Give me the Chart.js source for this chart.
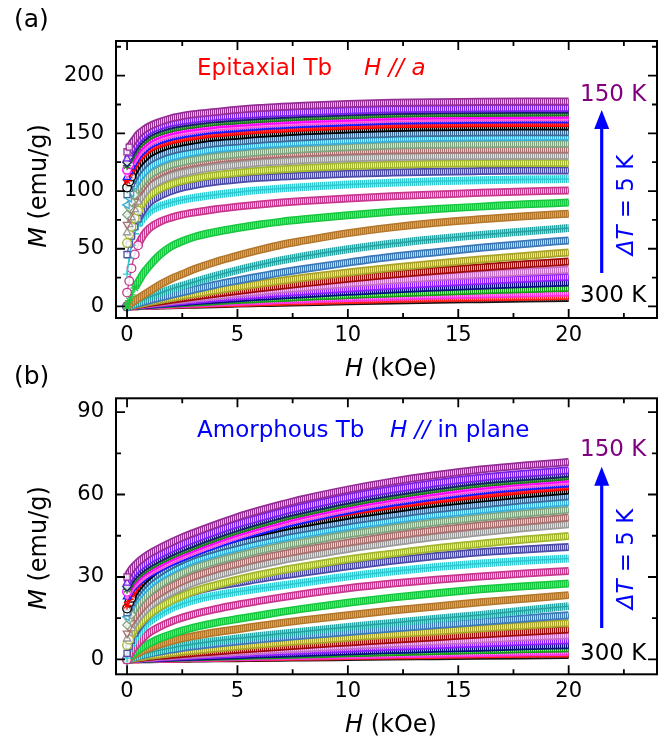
<!DOCTYPE html>
<html>
<head>
<meta charset="utf-8">
<script src="https://cdn.jsdelivr.net/npm/chart.js@4.4.1/dist/chart.umd.min.js"></script>
<style>
  html, body { margin: 0; padding: 0; background: #fff; }
  #wrap { position: relative; width: 668px; height: 750px; overflow: hidden; }
  canvas { position: absolute; left: 0; }
  #chartA { top: 0; }
  #chartB { top: 350px; }
</style>
</head>
<body>
<div id="wrap">
  <canvas id="chartA" width="668" height="390"></canvas>
  <canvas id="chartB" width="668" height="400"></canvas>
</div>
<script>
// Field values (kOe) shared by every M(H) curve
const fieldKOe = [0, 0.1, 0.2, 0.35, 0.5, 0.75, 1, 1.5, 2, 2.5, 3, 4, 5, 6, 7, 8, 10, 12, 14, 16, 18, 20];
const temperaturesK = [150, 155, 160, 165, 170, 175, 180, 185, 190, 195, 200, 205, 210, 215, 220, 225,
                       230, 235, 240, 245, 250, 255, 260, 265, 270, 275, 280, 285, 290, 295, 300];

// Tick labels
const fieldTicks = [0, 5, 10, 15, 20];
const epiTicks = [0, 50, 100, 150, 200];
const amoTicks = [0, 30, 60, 90];

// (a) epitaxial Tb, H // a : M (emu/g)
const epi150 = [134,138,141,145,149,153,156,160,163,165,166.5,168.5,170.5,172,173,174,175.5,176.5,177,177.3,177.5,177.6];
const epi155 = [128,132.4,135.9,140.3,144.3,148.7,152.2,156.2,158.8,160.6,161.9,164.1,165.4,166.7,167.6,168.5,169.8,170.9,171.4,171.7,171.9,172];
const epi160 = [125,129.6,133.2,137.7,141.8,146.4,150,154.1,156.9,158.7,160,162.3,163.7,165,166,166.9,168.2,169.4,169.9,170.2,170.4,170.5];
const epi165 = [122,126.6,130.3,134.9,139,143.6,147.3,151.4,154.2,156,157.4,159.7,161.1,162.5,163.4,164.3,165.7,166.9,167.4,167.7,167.9,168];
const epi170 = [118.5,123.3,127.1,131.8,136.1,140.8,144.6,148.9,151.8,153.7,155.1,157.5,158.9,160.3,161.3,162.2,163.6,164.8,165.4,165.7,165.9,166];
const epi175 = [115,119.9,123.8,128.7,133.1,138,142,146.4,149.3,151.3,152.7,155.2,156.7,158.1,159.1,160.1,161.6,162.8,163.4,163.7,163.9,164];
const epi180 = [112,117,121,126,130.5,135.5,139.5,144,147,149,150.5,153,154.5,156,157,158,159.5,160.8,161.4,161.7,161.9,162];
const epi185 = [109,114,118,123,127.5,132.5,136.5,141,144,146,147.5,150,151.5,153,154,155,156.5,157.8,158.4,158.7,158.9,159];
const epi190 = [103,108.3,112.5,117.8,122.6,127.9,132.2,136.9,140.1,142.2,143.8,146.5,148,149.6,150.7,151.8,153.4,154.7,155.3,155.7,155.9,156];
const epi195 = [97,102.4,106.7,112.1,117,122.4,126.7,131.6,134.8,137,138.6,141.3,142.9,144.5,145.6,146.7,148.3,149.7,150.3,150.7,150.9,151];
const epi200 = [88,93.9,98.6,104.5,109.8,115.7,120.5,125.8,129.3,131.7,133.4,136.4,138.2,139.9,141.1,142.3,144.1,145.5,146.2,146.6,146.9,147];
const epi205 = [79.5,85.7,90.6,96.7,102.3,108.4,113.3,118.9,122.6,125,126.9,129.9,131.8,133.6,134.9,136.1,137.9,139.5,140.2,140.6,140.9,141];
const epi210 = [71,78,84,91,97.5,104.5,110,115.8,119.8,122.3,124.2,127.2,129.2,130.8,132,133,134.4,135.3,135.7,135.9,136,136];
const epi215 = [64,71,77,84,90.5,97.5,103,109,113,115.6,117.6,120.7,122.7,124.5,125.7,126.8,128.4,129.5,130.1,130.4,130.5,130.6];
const epi220 = [55,62.5,69,76.5,83,90.5,96,102,106,108.8,110.8,113.8,115.8,117.5,118.8,119.9,121.6,122.8,123.6,124,124.2,124.3];
const epi225 = [45,54,61,69,76,84,90,96,100,103,105,108,110,111.5,112.5,113.5,115,116,116.8,117.3,117.7,117.9];
const epi230 = [28,42,53,63,70,77,82,87,90,92.3,94.1,96.8,99,100.8,102.3,103.6,105.6,107.2,108.4,109.3,110,110.4];
const epi235 = [12,22,33,45,53,62,67.5,73.5,77,79.5,81.3,84.2,86.5,88.4,90,91.4,93.6,95.5,97,98.5,99.6,100.5];
const epi240 = [0,5,10,16,21,29,35,45,52,56.5,60,64.5,68,71,73.5,75.5,79,82,84.5,86.5,88.5,90];
const epi245 = [0,1.5,3,5,7,10,13,19,24,28,32,38.5,44,49,53.5,57,63.5,68.5,72.5,75.5,78.2,80.3];
const epi250 = [0,0.8,1.6,2.8,4,6,8,11.5,15,18,21,26.5,31.5,36,40,43.5,49.5,54.5,58.5,62,65,67.9];
const epi255 = [0,0.5,1,1.8,2.6,3.9,5.2,7.6,10,12.3,14.5,18.8,22.5,26,29.5,32.5,38,43,47,50.8,54.2,57.2];
const epi260 = [0,0.4,0.8,1.3,1.9,2.8,3.7,5.5,7.3,9,10.6,13.8,16.8,19.6,22.3,24.9,29.5,33.6,37.2,40.6,43.8,46.8];
const epi265 = [0,0.3,0.6,1,1.5,2.2,2.9,4.3,5.7,7,8.4,11,13.4,15.7,17.9,20,24,27.6,30.9,33.8,36.5,39];
const epi270 = [0,0.25,0.5,0.85,1.2,1.8,2.4,3.5,4.6,5.7,6.8,8.9,10.9,12.8,14.6,16.3,19.6,22.6,25.2,27.6,29.8,31.8];
const epi275 = [0,0.2,0.4,0.7,1,1.5,1.9,2.8,3.7,4.6,5.4,7.1,8.7,10.2,11.6,13,15.6,18,20.2,22.1,23.9,25.5];
const epi280 = [0,0.15,0.3,0.55,0.8,1.2,1.55,2.3,3,3.7,4.4,5.8,7.1,8.3,9.5,10.6,12.7,14.7,16.4,18,19.5,20.8];
const epi285 = [0,0.12,0.24,0.42,0.6,0.9,1.2,1.8,2.3,2.9,3.4,4.5,5.5,6.4,7.3,8.2,9.8,11.3,12.6,13.8,15,16];
const epi290 = [0,0.1,0.18,0.32,0.45,0.7,0.9,1.3,1.7,2.1,2.5,3.3,4.1,4.8,5.5,6.1,7.4,8.5,9.5,10.4,11.2,12];
const epi295 = [0,0.07,0.14,0.24,0.34,0.5,0.67,1,1.3,1.6,1.9,2.5,3,3.6,4.1,4.6,5.5,6.4,7.1,7.8,8.4,9];
const epi300 = [0,0.06,0.11,0.2,0.28,0.41,0.55,0.8,1.05,1.3,1.55,2,2.5,2.9,3.3,3.7,4.5,5.2,5.8,6.3,6.8,7.3];

// (b) amorphous Tb, H // in plane : M (emu/g)
const amo150 = [30,31.5,32.8,34.2,35.4,37,38.4,40.6,42.6,44.4,46,49,51.8,54.2,56.4,58.4,61.8,64.7,67.1,69.1,70.6,71.8];
const amo155 = [27.8,29.3,30.5,31.9,33.1,34.6,36,38.2,40.1,41.9,43.5,46.5,49.2,51.5,53.7,55.6,59,61.8,64.2,66.1,67.6,68.8];
const amo160 = [26.5,28,29.3,30.6,31.8,33.4,34.7,36.9,38.9,40.6,42.2,45.2,47.9,50.3,52.5,54.4,57.8,60.6,63,65,66.4,67.6];
const amo165 = [25.5,27,28.3,29.6,30.8,32.4,33.7,35.9,37.9,39.6,41.2,44.2,46.9,49.3,51.5,53.4,56.8,59.6,62,64,65.4,66.6];
const amo170 = [24.6,26.1,27.4,28.7,29.9,31.5,32.8,35,37,38.8,40.4,43.4,46.1,48.5,50.6,52.6,56,58.8,61.1,63.1,64.6,65.8];
const amo175 = [23.5,25,26.3,27.6,28.8,30.4,31.8,34,36,37.8,39.4,42.4,45.1,47.5,49.7,51.6,55,57.9,60.2,62.2,63.7,64.9];
const amo180 = [22.8,24.3,25.6,26.9,28.1,29.7,31.1,33.3,35.3,37,38.6,41.6,44.3,46.7,48.9,50.8,54.2,57,59.3,61.3,62.8,64];
const amo185 = [19.7,21.9,23.6,25.8,27.5,29.9,31.8,34.9,37.2,39.2,40.9,43.5,45.7,47.6,49.4,50.9,53.7,56.1,58.2,60,61.6,63];
const amo190 = [18.5,20.7,22.4,24.5,26.2,28.6,30.5,33.6,35.9,37.9,39.6,42.2,44.3,46.2,48,49.5,52.3,54.6,56.8,58.5,60.1,61.5];
const amo195 = [17,19.1,20.8,22.9,24.6,27,28.9,31.8,34.2,36.1,37.8,40.3,42.4,44.3,46,47.5,50.3,52.6,54.7,56.4,58,59.4];
const amo200 = [15.5,17.6,19.3,21.4,23,25.3,27.2,30.1,32.4,34.3,36,38.5,40.6,42.5,44.1,45.6,48.3,50.6,52.7,54.4,55.9,57.3];
const amo205 = [12.5,14.6,16.3,18.4,20.1,22.4,24.3,27.2,29.5,31.4,33.1,35.6,37.7,39.6,41.3,42.7,45.5,47.8,49.9,51.6,53.1,54.5];
const amo210 = [9.5,11.6,13.3,15.4,17.1,19.4,21.3,24.2,26.5,28.4,30.1,32.7,34.8,36.7,38.3,39.8,42.5,44.9,47,48.7,50.2,51.6];
const amo215 = [7.5,9.6,11.3,13.3,15,17.3,19.2,22.1,24.4,26.3,27.9,30.4,32.5,34.4,36.1,37.5,40.2,42.5,44.6,46.3,47.8,49.2];
const amo220 = [5.2,7.2,8.8,10.8,12.3,14.5,16.3,19.1,21.3,23.1,24.7,27,29,30.8,32.4,33.8,36.4,38.5,40.5,42.1,43.6,44.9];
const amo225 = [2.2,4.9,7,9.6,11.5,14.2,16.3,19.2,21.6,23.3,24.6,26.6,27.9,29.3,30.5,31.6,33.9,35.9,37.6,39,40,40.9];
const amo230 = [0.5,3,5,7.4,9.2,11.7,13.7,16.4,18.6,20.2,21.5,23.3,24.6,25.8,26.9,28,30.2,32,33.6,34.9,35.9,36.7];
const amo235 = [0,1.5,2.8,4.6,6,8,9.7,12,13.8,15.2,16.4,18.3,19.9,21.3,22.6,23.8,25.9,27.6,29,30.2,31.3,32.2];
const amo240 = [0,0.8,1.5,2.5,3.4,4.7,5.8,7.7,9.2,10.5,11.6,13.3,14.7,16,17.3,18.5,20.6,22.5,24.1,25.5,26.6,27.6];
const amo245 = [0,0.5,1,1.7,2.3,3.3,4.1,5.5,6.7,7.7,8.5,9.9,11,12.2,13.3,14.3,16.1,17.8,19.3,20.8,22.1,23.4];
const amo250 = [0,0.3,0.6,1,1.4,2,2.5,3.4,4.2,5,5.6,6.7,7.6,8.5,9.4,10.2,11.8,13.3,14.8,16.2,17.8,19.4];
const amo255 = [0,0.25,0.5,0.85,1.2,1.7,2.1,2.9,3.6,4.2,4.8,5.7,6.5,7.3,8,8.7,10,11.3,12.5,13.7,14.9,16.1];
const amo260 = [0,0.15,0.3,0.5,0.7,1,1.3,1.8,2.3,2.8,3.2,4,4.7,5.4,6.1,6.7,7.9,9.1,10.2,11.3,12.3,13.3];
const amo265 = [0,0.1,0.2,0.35,0.5,0.7,0.9,1.3,1.6,2,2.3,2.9,3.5,4.1,4.6,5.2,6.2,7.2,8.1,9.1,10,10.9];
const amo270 = [0,0.08,0.15,0.25,0.35,0.5,0.65,0.95,1.2,1.5,1.75,2.25,2.7,3.15,3.6,4,4.9,5.7,6.5,7.3,8.1,8.8];
const amo275 = [0,0.06,0.12,0.2,0.28,0.4,0.52,0.75,0.95,1.15,1.35,1.75,2.1,2.5,2.85,3.2,3.9,4.6,5.2,5.8,6.4,7];
const amo280 = [0,0.05,0.09,0.15,0.21,0.3,0.38,0.55,0.7,0.85,1,1.3,1.55,1.85,2.1,2.35,2.9,3.4,3.9,4.3,4.8,5.2];
const amo285 = [0,0.04,0.07,0.12,0.16,0.23,0.3,0.43,0.55,0.67,0.78,1,1.2,1.42,1.62,1.82,2.22,2.62,3,3.35,3.7,4];
const amo290 = [0,0.03,0.05,0.08,0.11,0.16,0.21,0.3,0.38,0.46,0.54,0.7,0.85,1,1.13,1.27,1.55,1.83,2.1,2.35,2.6,2.8];
const amo295 = [0,0.02,0.04,0.06,0.09,0.13,0.17,0.24,0.3,0.37,0.43,0.55,0.67,0.78,0.89,1,1.22,1.44,1.65,1.85,2.03,2.2];
const amo300 = [0,0.015,0.03,0.045,0.065,0.095,0.12,0.17,0.22,0.27,0.31,0.4,0.48,0.57,0.65,0.72,0.88,1.04,1.19,1.34,1.48,1.6];

const epiSeries = [epi150, epi155, epi160, epi165, epi170, epi175, epi180, epi185, epi190, epi195, epi200,
  epi205, epi210, epi215, epi220, epi225, epi230, epi235, epi240, epi245, epi250, epi255, epi260, epi265,
  epi270, epi275, epi280, epi285, epi290, epi295, epi300];
const amoSeries = [amo150, amo155, amo160, amo165, amo170, amo175, amo180, amo185, amo190, amo195, amo200,
  amo205, amo210, amo215, amo220, amo225, amo230, amo235, amo240, amo245, amo250, amo255, amo260, amo265,
  amo270, amo275, amo280, amo285, amo290, amo295, amo300];

// Symbol colour / shape for each temperature (150 K ... 300 K)
const curveColors = ['#952F95', '#7B22E8', '#1C1C70', '#1F7A1F', '#FF00FF', '#FF5AD2', '#1A1AFF', '#FF0000',
  '#000000', '#3B6A96', '#38AEDA', '#7FA47F', '#A9716F', '#9C9C9C', '#A5B630', '#4D4DA8', '#30C8D0',
  '#C8388F', '#18C840', '#B5772A', '#26A2A2', '#3D7AB8', '#AAA52A', '#9E0C0C', '#C470C4', '#8C1EFF',
  '#0C0C84', '#189E18', '#FF30E0', '#FF1C1C', '#141414'];
const curveSymbols = ['rect', 'triangle', 'rectRot', 'star', 'circle', 'triangle', 'triangle', 'star', 'circle',
  'rect', 'triangle', 'rectRot', 'triangle', 'triangle', 'circle', 'rect', 'cross', 'circle', 'star', 'crossRot',
  'cross', 'circle', 'rect', 'triangle', 'rect', 'triangle', 'rect', 'rectRot', 'circle', 'triangle', 'rect'];
const curveRotations = [0, 0, 0, 0, 0, 180, 0, 0, 0, 0, -90, 0, 180, 0, 0, 0, 0, 0, 0, 0, 0, 0, 0, 90, 0, 180,
  0, 0, 0, 0, 0];

const FONT = "'DejaVu Sans', sans-serif";
Chart.defaults.font.family = FONT;
Chart.defaults.color = '#000';

function mixWhite(hex, t) {
  const n = parseInt(hex.slice(1), 16);
  const f = c => Math.round(c + (255 - c) * t);
  return `rgb(${f((n >> 16) & 255)},${f((n >> 8) & 255)},${f(n & 255)})`;
}

// Vertical hatch used as the texture of the densely packed symbols
function stripes(color, tint) {
  const c = document.createElement('canvas');
  c.width = 2; c.height = 1;
  const g = c.getContext('2d');
  g.fillStyle = color; g.fillRect(0, 0, 1, 1);
  g.fillStyle = tint; g.fillRect(1, 0, 1, 1);
  return g.createPattern(c, 'repeat');
}

const steep = c => Math.abs(c.p1.y - c.p0.y) > 2 * Math.abs(c.p1.x - c.p0.x);

// Show separate symbols where the curve rises too fast for them to overlap
function markerRadius(c) {
  const ch = c.chart, d = c.dataset.data, i = c.dataIndex;
  const sx = ch.scales.x, sy = ch.scales.y;
  if (!sx || !sy || !d[i]) return 0;
  const isSteep = (a, b) =>
    Math.abs(sy.getPixelForValue(d[b].y) - sy.getPixelForValue(d[a].y)) >
    2 * Math.abs(sx.getPixelForValue(d[b].x) - sx.getPixelForValue(d[a].x));
  if (i === 0) return 4.3;
  if (isSteep(i - 1, i)) return 4.3;
  if (i + 1 < d.length && isSteep(i, i + 1)) return 4.3;
  return 0;
}

function curveLayers(values, k) {
  const color = curveColors[k], sym = curveSymbols[k], rot = curveRotations[k];
  const pts = fieldKOe.map((h, j) => ({ x: h, y: values[j] }));
  const base = { data: pts, cubicInterpolationMode: 'monotone', fill: false, pointHitRadius: 0 };
  const marker = {
    pointStyle: sym, pointRotation: rot, pointRadius: markerRadius,
    pointBorderColor: color, pointBackgroundColor: 'rgba(255,255,255,0.8)', pointBorderWidth: 1.3
  };
  const hideSteep = { borderColor: c => steep(c) ? 'rgba(0,0,0,0)' : undefined };
  const thinSteep = { borderWidth: c => steep(c) ? 1.2 : undefined };
  if (sym === 'cross') {
    return [
      { ...base, ...marker, borderColor: color, borderWidth: 1.5 },
      { ...base, pointRadius: 0, borderColor: stripes(color, mixWhite(color, 0.55)), borderWidth: 8, segment: hideSteep }
    ];
  }
  if (sym === 'star' || sym === 'crossRot') {
    return [
      { ...base, ...marker, borderColor: stripes(color, mixWhite(color, 0.35)), borderWidth: 5, segment: hideSteep },
      { ...base, pointRadius: 0, borderColor: color, borderWidth: 8, segment: thinSteep }
    ];
  }
  return [
    { ...base, ...marker, borderColor: stripes(color, mixWhite(color, 0.7)), borderWidth: 4.5, segment: hideSteep },
    { ...base, pointRadius: 0, borderColor: color, borderWidth: 8, segment: thinSteep }
  ];
}

// Text made of upright / italic runs
function richText(ctx, parts, x, y, size, color, align) {
  ctx.fillStyle = color;
  ctx.textBaseline = 'alphabetic';
  ctx.textAlign = 'left';
  const fonts = parts.map(p => `${p[1] ? 'italic ' : ''}${size}px ${FONT}`);
  let w = 0;
  const ws = parts.map((p, i) => { ctx.font = fonts[i]; const m = ctx.measureText(p[0]).width; w += m; return m; });
  let cx = align === 'center' ? x - w / 2 : x;
  parts.forEach((p, i) => { ctx.font = fonts[i]; ctx.fillText(p[0], cx, y); cx += ws[i]; });
}
function verticalText(ctx, parts, baseX, centerY, size, color) {
  ctx.save();
  ctx.translate(baseX, centerY);
  ctx.rotate(-Math.PI / 2);
  richText(ctx, parts, 0, 0, size, color, 'center');
  ctx.restore();
}
function upArrow(ctx, x, yTip, yBase, color) {
  ctx.save();
  ctx.strokeStyle = color; ctx.lineWidth = 3.2;
  ctx.beginPath(); ctx.moveTo(x, yBase); ctx.lineTo(x, yTip + 15); ctx.stroke();
  ctx.fillStyle = color;
  ctx.beginPath(); ctx.moveTo(x, yTip); ctx.lineTo(x - 7.5, yTip + 19); ctx.lineTo(x + 7.5, yTip + 19);
  ctx.closePath(); ctx.fill();
  ctx.restore();
}

// Closed frame with inward major and minor ticks on all four sides
const framePlugin = {
  id: 'frame',
  afterDraw(chart) {
    const { ctx, chartArea: a, scales: { x, y } } = chart;
    ctx.save();
    ctx.strokeStyle = '#000';
    ctx.lineWidth = 2;
    ctx.strokeRect(a.left, a.top, a.right - a.left, a.bottom - a.top);
    ctx.lineWidth = 1.8;
    ctx.beginPath();
    const xt = x.ticks.map(t => t.value), yt = y.ticks.map(t => t.value);
    const xs = xt[1] - xt[0], ys = yt[1] - yt[0];
    const xMarks = [], yMarks = [];
    xt.forEach(v => { xMarks.push([v, 9]); xMarks.push([v + xs / 2, 5]); });
    yt.forEach(v => { yMarks.push([v, 9]); yMarks.push([v + ys / 2, 5]); });
    xMarks.forEach(([v, len]) => {
      if (v < x.min || v > x.max) return;
      const p = x.getPixelForValue(v);
      ctx.moveTo(p, a.bottom); ctx.lineTo(p, a.bottom - len);
      ctx.moveTo(p, a.top); ctx.lineTo(p, a.top + len);
    });
    yMarks.forEach(([v, len]) => {
      if (v < y.min || v > y.max) return;
      const p = y.getPixelForValue(v);
      ctx.moveTo(a.left, p); ctx.lineTo(a.left + len, p);
      ctx.moveTo(a.right, p); ctx.lineTo(a.right - len, p);
    });
    ctx.stroke();
    ctx.restore();
  }
};

function makeChart(id, series, yMin, yMax, yTicks, padTop, xHeight, notes) {
  const datasets = series.map((vals, k) => curveLayers(vals, k)).flat();
  return new Chart(document.getElementById(id), {
    type: 'line',
    data: { datasets },
    options: {
      responsive: false,
      animation: false,
      devicePixelRatio: 1,
      events: [],
      layout: { padding: { top: padTop, right: 11, left: 0, bottom: 0 } },
      plugins: { legend: { display: false }, tooltip: { enabled: false } },
      scales: {
        x: {
          type: 'linear', min: -0.5, max: 24,
          grid: { display: false, drawTicks: false }, border: { display: false },
          afterBuildTicks: s => { s.ticks = fieldTicks.map(v => ({ value: v })); },
          afterFit: s => { s.height = xHeight; },
          ticks: { font: { size: 21, family: FONT }, color: '#000', padding: 5, maxRotation: 0, autoSkip: false }
        },
        y: {
          type: 'linear', min: yMin, max: yMax,
          grid: { display: false, drawTicks: false }, border: { display: false },
          afterBuildTicks: s => { s.ticks = yTicks.map(v => ({ value: v })); },
          afterFit: s => { s.width = 116; },
          ticks: { font: { size: 21, family: FONT }, color: '#000', padding: 12, autoSkip: false }
        }
      }
    },
    plugins: [framePlugin, { id: 'notes', afterDraw: c => notes(c.ctx) }]
  });
}

makeChart('chartA', epiSeries, -10, 230, epiTicks, 41, 72, ctx => {
  richText(ctx, [['(a)', false]], 14, 27, 25, '#000');
  richText(ctx, [['H', true], [' (kOe)', false]], 391, 376, 24, '#000', 'center');
  verticalText(ctx, [['M', true], [' (emu/g)', false]], 46, 186, 24, '#000');
  richText(ctx, [['Epitaxial Tb', false]], 197, 75, 23, '#FF0000');
  richText(ctx, [['H // a', true]], 364, 75, 23, '#FF0000');
  richText(ctx, [['150 K', false]], 580, 101, 23, '#800080');
  richText(ctx, [['300 K', false]], 580, 302, 23, '#000');
  upArrow(ctx, 601.7, 110, 273, '#0000FF');
  verticalText(ctx, [['\u0394T', true], [' = 5 K', false]], 633, 205, 23, '#0000FF');
});

makeChart('chartB', amoSeries, -5.4, 95, amoTicks, 48.3, 75.7, ctx => {
  richText(ctx, [['(b)', false]], 14, 34, 25, '#000');
  richText(ctx, [['H', true], [' (kOe)', false]], 391, 382, 24, '#000', 'center');
  verticalText(ctx, [['M', true], [' (emu/g)', false]], 46, 198, 24, '#000');
  richText(ctx, [['Amorphous Tb', false]], 197, 86.7, 23, '#0000FF');
  richText(ctx, [['H //', true], [' in plane', false]], 390, 86.7, 23, '#0000FF');
  richText(ctx, [['150 K', false]], 580, 106, 23, '#800080');
  richText(ctx, [['300 K', false]], 580, 310, 23, '#000');
  upArrow(ctx, 601.7, 116.7, 278, '#0000FF');
  verticalText(ctx, [['\u0394T', true], [' = 5 K', false]], 633, 209, 23, '#0000FF');
});
</script>
</body>
</html>
